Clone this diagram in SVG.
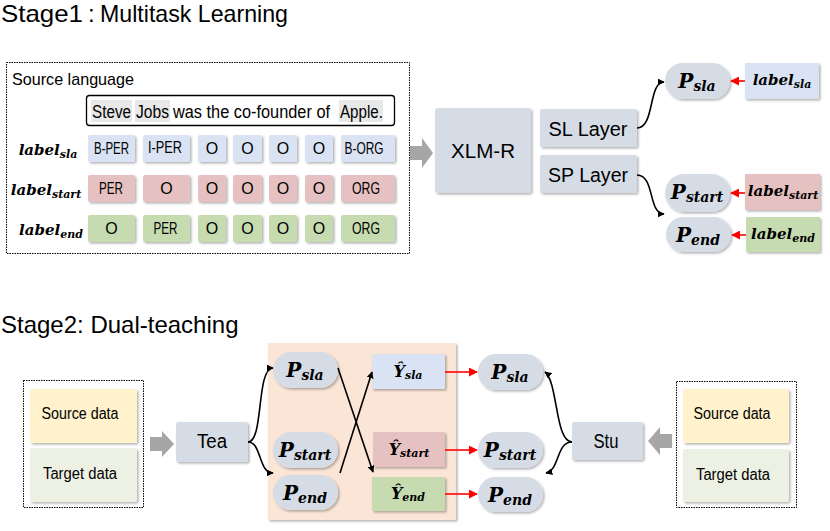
<svg xmlns="http://www.w3.org/2000/svg" width="830" height="531" viewBox="0 0 830 531">
<defs>
<filter id="sh" x="-10%" y="-10%" width="130%" height="140%">
<feDropShadow dx="1.5" dy="1.5" stdDeviation="1" flood-color="#000" flood-opacity="0.3"/>
</filter>
<marker id="ab" viewBox="0 0 10 10" refX="9" refY="5" markerWidth="7" markerHeight="7" orient="auto" markerUnits="userSpaceOnUse">
<path d="M0,0 L10,5 L0,10 z" fill="#000"/>
</marker>
<marker id="ar" viewBox="0 0 10 10" refX="9" refY="5" markerWidth="9" markerHeight="9" orient="auto" markerUnits="userSpaceOnUse">
<path d="M0,0 L10,5 L0,10 z" fill="#ff0000"/>
</marker>
</defs>
<style>
text{font-family:"Liberation Sans","Noto Sans CJK JP",sans-serif;fill:#000}
.t{font-size:24px}
.n{fill:#d6dce5;filter:url(#sh)}
.b{fill:#dae3f3;filter:url(#sh)}
.r{fill:#e6c1c1;filter:url(#sh)}
.g{fill:#c6dbaf;filter:url(#sh)}
.y{fill:#fff2cc;filter:url(#sh)}
.lg{fill:#edf1e4;filter:url(#sh)}
.cell{font-size:16px;text-anchor:middle}
.m{font-family:"DejaVu Serif","Liberation Serif",serif;font-style:italic;font-weight:bold;text-anchor:middle}
.dot{fill:none;stroke:#000;stroke-width:1;stroke-dasharray:1.5 1}
.c{fill:none;stroke:#000;stroke-width:1.6;marker-end:url(#ab)}
.rl{fill:none;stroke:#ff0000;stroke-width:1.6;marker-end:url(#ar)}
.hl{fill:#e8e8e8}
.big{font-size:20px;text-anchor:middle}
.sd{font-size:16px;text-anchor:middle}
.sen{font-size:17.5px}
</style>

<text class="t" x="1" y="22" font-size="24"><tspan x="1" textLength="82" lengthAdjust="spacingAndGlyphs">Stage1</tspan><tspan x="88">:</tspan><tspan x="100" textLength="188" lengthAdjust="spacingAndGlyphs">Multitask Learning</tspan></text>
<text class="t" x="1" y="333">Stage2: Dual-teaching</text>

<g id="source-language">
<rect class="dot" x="6.5" y="62.5" width="403" height="191"/>
<text x="12" y="85" font-size="17" textLength="122" lengthAdjust="spacingAndGlyphs">Source language</text>
<rect class="hl" x="91" y="100" width="41" height="22"/>
<rect class="hl" x="135" y="100" width="35" height="22"/>
<rect class="hl" x="339" y="100" width="44" height="22"/>
<rect x="86.5" y="95.5" width="308" height="30" rx="3" fill="none" stroke="#000" stroke-width="1.3"/>
<text class="sen" x="92" y="118" textLength="39" lengthAdjust="spacingAndGlyphs">Steve</text>
<text class="sen" x="136" y="118" textLength="33" lengthAdjust="spacingAndGlyphs">Jobs</text>
<text class="sen" x="173" y="118" font-size="16.5" textLength="157" lengthAdjust="spacingAndGlyphs">was the co-founder of</text>
<text class="sen" x="340" y="118" textLength="43" lengthAdjust="spacingAndGlyphs">Apple.</text>
</g>

<g id="labels-left">
<text class="m" x="48" y="155" font-size="15">label<tspan font-size="11" dy="3">sla</tspan></text>
<text class="m" x="46" y="195" font-size="15">label<tspan font-size="11" dy="3">start</tspan></text>
<text class="m" x="51" y="235" font-size="15">label<tspan font-size="11" dy="3">end</tspan></text>
</g>

<g id="row-sla">
<rect class="b" x="88" y="135" width="47" height="27" rx="2"/>
<rect class="b" x="143" y="135" width="47" height="27" rx="2"/>
<rect class="b" x="198" y="135" width="28" height="27" rx="2"/>
<rect class="b" x="233" y="135" width="29" height="27" rx="2"/>
<rect class="b" x="269" y="135" width="28" height="27" rx="2"/>
<rect class="b" x="305" y="135" width="28" height="27" rx="2"/>
<rect class="b" x="341" y="135" width="54" height="27" rx="2"/>
<text class="cell" x="111.5" y="154" textLength="35" lengthAdjust="spacingAndGlyphs">B-PER</text>
<text class="cell" x="165" y="153" textLength="34" lengthAdjust="spacingAndGlyphs">I-PER</text>
<text class="cell" x="212" y="154">O</text>
<text class="cell" x="247.5" y="154">O</text>
<text class="cell" x="283" y="154">O</text>
<text class="cell" x="319" y="154">O</text>
<text class="cell" x="364" y="154" textLength="39" lengthAdjust="spacingAndGlyphs">B-ORG</text>
</g>

<g id="row-start">
<rect class="r" x="88" y="175" width="47" height="27" rx="2"/>
<rect class="r" x="143" y="175" width="47" height="27" rx="2"/>
<rect class="r" x="198" y="175" width="28" height="27" rx="2"/>
<rect class="r" x="233" y="175" width="29" height="27" rx="2"/>
<rect class="r" x="269" y="175" width="28" height="27" rx="2"/>
<rect class="r" x="305" y="175" width="28" height="27" rx="2"/>
<rect class="r" x="341" y="175" width="54" height="27" rx="2"/>
<text class="cell" x="111" y="194" textLength="24" lengthAdjust="spacingAndGlyphs">PER</text>
<text class="cell" x="166.5" y="194">O</text>
<text class="cell" x="212" y="194">O</text>
<text class="cell" x="247.5" y="194">O</text>
<text class="cell" x="283" y="194">O</text>
<text class="cell" x="319" y="194">O</text>
<text class="cell" x="366" y="194" textLength="28" lengthAdjust="spacingAndGlyphs">ORG</text>
</g>

<g id="row-end">
<rect class="g" x="88" y="215" width="47" height="27" rx="2"/>
<rect class="g" x="143" y="215" width="47" height="27" rx="2"/>
<rect class="g" x="198" y="215" width="28" height="27" rx="2"/>
<rect class="g" x="233" y="215" width="29" height="27" rx="2"/>
<rect class="g" x="269" y="215" width="28" height="27" rx="2"/>
<rect class="g" x="305" y="215" width="28" height="27" rx="2"/>
<rect class="g" x="341" y="215" width="54" height="27" rx="2"/>
<text class="cell" x="111.5" y="234">O</text>
<text class="cell" x="165.5" y="234" textLength="24" lengthAdjust="spacingAndGlyphs">PER</text>
<text class="cell" x="212" y="234">O</text>
<text class="cell" x="247.5" y="234">O</text>
<text class="cell" x="283" y="234">O</text>
<text class="cell" x="319" y="234">O</text>
<text class="cell" x="366" y="234" textLength="28" lengthAdjust="spacingAndGlyphs">ORG</text>
</g>

<g id="arrow1">
<path d="M410,146 L422,146 L422,138 L433,153 L422,168 L422,160 L410,160 z" fill="#a6a6a6"/>
</g>

<g id="xlmr">
<rect class="n" x="435" y="108" width="96" height="85" rx="3"/>
<text class="big" x="483" y="158" font-size="22" textLength="64" lengthAdjust="spacingAndGlyphs">XLM-R</text>
</g>
<g id="sl-layer">
<rect class="n" x="540" y="109" width="97" height="38" rx="2"/>
<text class="big" x="588" y="136" font-size="21" textLength="79" lengthAdjust="spacingAndGlyphs">SL Layer</text>
</g>
<g id="sp-layer">
<rect class="n" x="540" y="155" width="97" height="38" rx="2"/>
<text class="big" x="588" y="182" font-size="21" textLength="80" lengthAdjust="spacingAndGlyphs">SP Layer</text>
</g>

<g id="p-sla-1">
<rect class="n" x="665" y="63" width="65" height="36" rx="18"/>
<text class="m" x="697" y="88" font-size="20">P<tspan font-size="14" dy="3">sla</tspan></text>
</g>
<g id="p-start-1">
<rect class="n" x="665" y="174" width="65" height="38" rx="19"/>
<text class="m" x="697" y="199" font-size="20">P<tspan font-size="14" dy="3">start</tspan></text>
</g>
<g id="p-end-1">
<rect class="n" x="666" y="217" width="65" height="35" rx="17.5"/>
<text class="m" x="698" y="242" font-size="20">P<tspan font-size="14" dy="3">end</tspan></text>
</g>
<g id="lab-sla">
<rect class="b" x="745" y="63" width="74" height="36" rx="1"/>
<text class="m" x="782" y="85" font-size="15">label<tspan font-size="11" dy="3">sla</tspan></text>
</g>
<g id="lab-start">
<rect class="r" x="745" y="174" width="75" height="36" rx="1"/>
<text class="m" x="783" y="196" font-size="15">label<tspan font-size="11" dy="3">start</tspan></text>
</g>
<g id="lab-end">
<rect class="g" x="746" y="217" width="74" height="35" rx="1"/>
<text class="m" x="783" y="239" font-size="15">label<tspan font-size="11" dy="3">end</tspan></text>
</g>

<g id="left-data">
<rect class="dot" x="23.5" y="380.5" width="120" height="127"/>
<rect class="y" x="30" y="389" width="107" height="54" rx="2"/>
<rect class="lg" x="30" y="448" width="107" height="54" rx="2"/>
<text class="sd" x="80" y="419" textLength="77" lengthAdjust="spacingAndGlyphs">Source data</text>
<text class="sd" x="80" y="479" textLength="74" lengthAdjust="spacingAndGlyphs">Target data</text>
</g>
<g id="arrow2">
<path d="M150,437 L162,437 L162,431 L174,444 L162,457 L162,451 L150,451 z" fill="#a6a6a6"/>
</g>
<g id="tea">
<rect class="n" x="176" y="422" width="72" height="40" rx="2"/>
<text class="big" x="212" y="448" font-size="20" textLength="30" lengthAdjust="spacingAndGlyphs">Tea</text>
</g>

<g id="panel">
<rect x="268" y="343" width="188" height="177" fill="#fbe5d6" filter="url(#sh)"/>
</g>
<g id="p-sla-2">
<rect class="n" x="273" y="352" width="65" height="36" rx="18"/>
<text class="m" x="305" y="377" font-size="20">P<tspan font-size="14" dy="3">sla</tspan></text>
</g>
<g id="p-start-2">
<rect class="n" x="273" y="432" width="65" height="36" rx="18"/>
<text class="m" x="305" y="457" font-size="20">P<tspan font-size="14" dy="3">start</tspan></text>
</g>
<g id="p-end-2">
<rect class="n" x="273" y="475" width="65" height="35" rx="17.5"/>
<text class="m" x="305" y="500" font-size="20">P<tspan font-size="14" dy="3">end</tspan></text>
</g>
<g id="y-sla">
<rect class="b" x="372" y="354" width="73" height="35" rx="1"/>
<text class="m" x="408" y="377" font-size="16">Ŷ<tspan font-size="11" dy="2">sla</tspan></text>
</g>
<g id="y-start">
<rect class="r" x="373" y="432" width="72" height="35" rx="1"/>
<text class="m" x="409" y="455" font-size="16">Ŷ<tspan font-size="11" dy="2">start</tspan></text>
</g>
<g id="y-end">
<rect class="g" x="372" y="477" width="73" height="34" rx="1"/>
<text class="m" x="408" y="499" font-size="16">Ŷ<tspan font-size="11" dy="2">end</tspan></text>
</g>

<g id="p-sla-3">
<rect class="n" x="478" y="354" width="65" height="36" rx="18"/>
<text class="m" x="510" y="379" font-size="20">P<tspan font-size="14" dy="3">sla</tspan></text>
</g>
<g id="p-start-3">
<rect class="n" x="478" y="432" width="65" height="36" rx="18"/>
<text class="m" x="510" y="457" font-size="20">P<tspan font-size="14" dy="3">start</tspan></text>
</g>
<g id="p-end-3">
<rect class="n" x="478" y="477" width="65" height="35" rx="17.5"/>
<text class="m" x="510" y="502" font-size="20">P<tspan font-size="14" dy="3">end</tspan></text>
</g>

<g id="stu">
<rect class="n" x="572" y="422" width="71" height="38" rx="2"/>
<text class="big" x="606" y="448" font-size="20" textLength="25" lengthAdjust="spacingAndGlyphs">Stu</text>
</g>
<g id="arrow3">
<path d="M672,434 L660,434 L660,427 L648,441 L660,455 L660,448 L672,448 z" fill="#a6a6a6"/>
</g>
<g id="right-data">
<rect class="dot" x="676.5" y="381.5" width="120" height="126"/>
<rect class="y" x="683" y="389" width="106" height="54" rx="2"/>
<rect class="lg" x="683" y="449" width="106" height="53" rx="2"/>
<text class="sd" x="732" y="419" textLength="77" lengthAdjust="spacingAndGlyphs">Source data</text>
<text class="sd" x="733" y="480" textLength="74" lengthAdjust="spacingAndGlyphs">Target data</text>
</g>

<g id="connectors">
<path class="c" d="M637,128 C655,128 648,82 664,82"/>
<path class="c" d="M637,175 C655,175 648,214 664,214"/>
<path class="rl" d="M745,81 L731,81"/>
<path class="rl" d="M745,193 L731,193"/>
<path class="rl" d="M746,235 L732,235"/>
<path class="c" d="M248,442 C264,442 256,368 273,368"/>
<path class="c" d="M248,442 C262,442 258,473 273,473"/>
<path class="c" d="M338,368 L373,472"/>
<path class="c" d="M340,473 L372,372"/>
<path class="rl" d="M445,372 L477,372"/>
<path class="rl" d="M445,450 L477,450"/>
<path class="rl" d="M445,494 L477,494"/>
<path class="c" d="M572,442 C555,442 558,382 545,372"/>
<path class="c" d="M572,442 C556,442 560,470 546,473"/>
</g>
</svg>
